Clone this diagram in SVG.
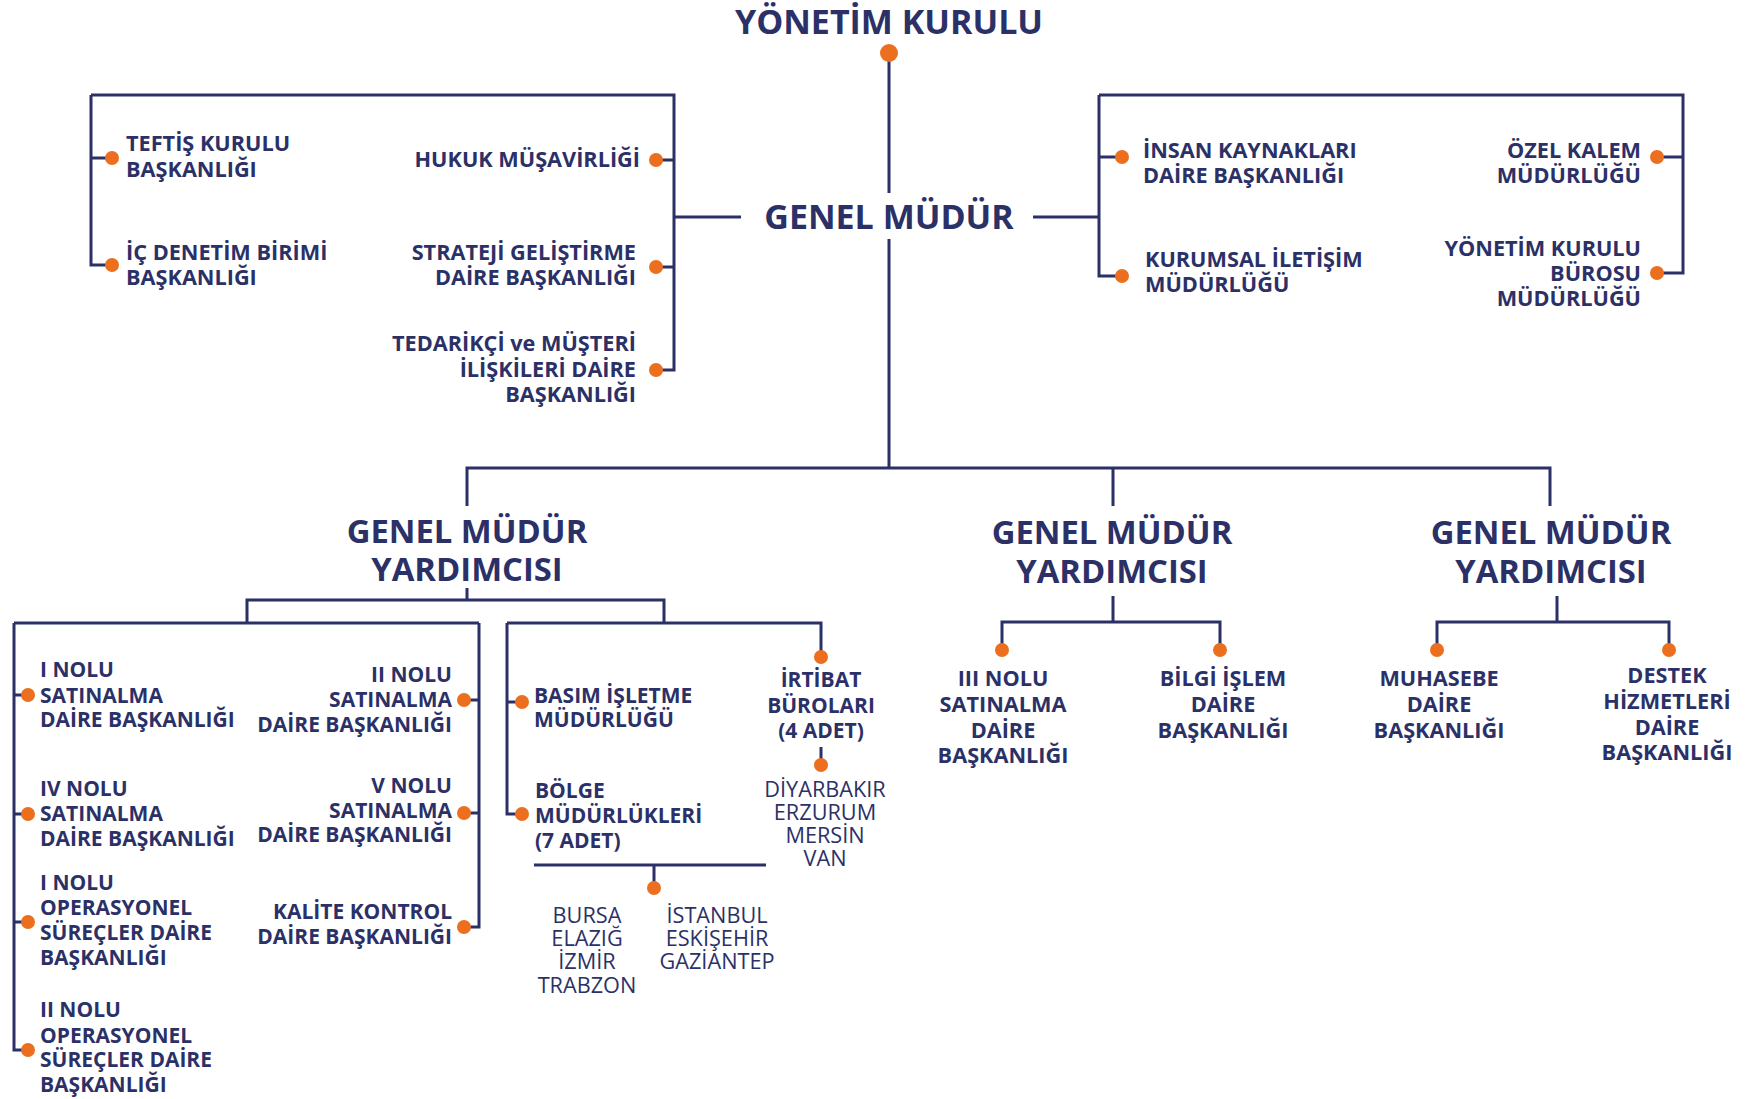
<svg xmlns="http://www.w3.org/2000/svg" width="1747" height="1099" viewBox="0 0 1747 1099">
<style>
.ln{fill:none;stroke:#2b3167;stroke-width:3}
.dot{fill:#eb6f1e}
.t{font-family:"Open Sans","Noto Sans","Liberation Sans",sans-serif;font-weight:700;fill:#2b3167;font-size:21px}
.u{font-size:21.7px}
.r{font-family:"Open Sans","Noto Sans","Liberation Sans",sans-serif;font-weight:400;fill:#2b3167;font-size:21.7px}
.h{font-family:"Open Sans","Noto Sans","Liberation Sans",sans-serif;font-weight:700;fill:#2b3167;font-size:32.8px}
.k{font-size:34px}
.e{text-anchor:end}
.m{text-anchor:middle}
</style>
<rect width="1747" height="1099" fill="#ffffff"/>
<g id="connectors">
<path class="ln" d="M889 53V193M889 239V468"/>
<path class="ln" d="M741 217H674M91 95H674V370H656M91 95V265H112M91 158H112M674 160H656M674 267H656"/>
<path class="ln" d="M1033 217H1099M1099 95H1683V273H1657M1099 95V276H1122M1099 157H1122M1683 157H1657"/>
<path class="ln" d="M467 506V468H1550V506M1113 468V506"/>
<path class="ln" d="M467 588V600M247 623V600H664V623M14 623H479M14 623V1050H28M14 695H28M14 814H28M14 922H28M479 623V927H464M479 700H464M479 813H464"/>
<path class="ln" d="M507 623H821V657M507 623V814H522M507 702H522M821 747V765M534 865H766M654 865V888"/>
<path class="ln" d="M1113 596V622M1002 650V622H1220V650"/>
<path class="ln" d="M1557 596V622M1437 650V622H1669V650"/>
</g>
<g id="yonetim-kurulu">
<text class="h k m" x="889" y="34">YÖNETİM KURULU</text>
<circle class="dot" cx="889" cy="53" r="9"/>
</g>
<g id="genel-mudur">
<text class="h k m" x="889" y="229">GENEL MÜDÜR</text>
</g>
<g id="teftis">
<circle class="dot" cx="112" cy="158" r="7"/>
<text class="t u" x="126" y="151">TEFTİŞ KURULU</text>
<text class="t u" x="126" y="177">BAŞKANLIĞI</text>
</g>
<g id="ic-denetim">
<circle class="dot" cx="112" cy="265" r="7"/>
<text class="t u" x="126" y="260">İÇ DENETİM BİRİMİ</text>
<text class="t u" x="126" y="285">BAŞKANLIĞI</text>
</g>
<g id="hukuk">
<circle class="dot" cx="656" cy="160" r="7"/>
<text class="t u e" x="640" y="167">HUKUK MÜŞAVİRLİĞİ</text>
</g>
<g id="strateji">
<circle class="dot" cx="656" cy="267" r="7"/>
<text class="t u e" x="636" y="260">STRATEJİ GELİŞTİRME</text>
<text class="t u e" x="636" y="285">DAİRE BAŞKANLIĞI</text>
</g>
<g id="tedarikci">
<circle class="dot" cx="656" cy="370" r="7"/>
<text class="t u e" x="636" y="351">TEDARİKÇİ ve MÜŞTERİ</text>
<text class="t u e" x="636" y="377">İLİŞKİLERİ DAİRE</text>
<text class="t u e" x="636" y="402">BAŞKANLIĞI</text>
</g>
<g id="insan-kaynaklari">
<circle class="dot" cx="1122" cy="157" r="7"/>
<text class="t u" x="1143" y="158">İNSAN KAYNAKLARI</text>
<text class="t u" x="1143" y="183">DAİRE BAŞKANLIĞI</text>
</g>
<g id="kurumsal-iletisim">
<circle class="dot" cx="1122" cy="276" r="7"/>
<text class="t u" x="1145" y="267">KURUMSAL İLETİŞİM</text>
<text class="t u" x="1145" y="292">MÜDÜRLÜĞÜ</text>
</g>
<g id="ozel-kalem">
<circle class="dot" cx="1657" cy="157" r="7"/>
<text class="t u e" x="1641" y="158">ÖZEL KALEM</text>
<text class="t u e" x="1641" y="183">MÜDÜRLÜĞÜ</text>
</g>
<g id="yk-burosu">
<circle class="dot" cx="1657" cy="273" r="7"/>
<text class="t u e" x="1641" y="256">YÖNETİM KURULU</text>
<text class="t u e" x="1641" y="281">BÜROSU</text>
<text class="t u e" x="1641" y="306">MÜDÜRLÜĞÜ</text>
</g>
<g id="gmy-1">
<text class="h m" x="467" y="543">GENEL MÜDÜR</text>
<text class="h m" x="467" y="581">YARDIMCISI</text>
</g>
<g id="gmy-2">
<text class="h m" x="1112" y="544">GENEL MÜDÜR</text>
<text class="h m" x="1112" y="583">YARDIMCISI</text>
</g>
<g id="gmy-3">
<text class="h m" x="1551" y="544">GENEL MÜDÜR</text>
<text class="h m" x="1551" y="583">YARDIMCISI</text>
</g>
<g id="i-nolu-satinalma">
<circle class="dot" cx="28" cy="695" r="7"/>
<text class="t" x="40" y="677">I NOLU</text>
<text class="t" x="40" y="703">SATINALMA</text>
<text class="t" x="40" y="727">DAİRE BAŞKANLIĞI</text>
</g>
<g id="iv-nolu-satinalma">
<circle class="dot" cx="28" cy="814" r="7"/>
<text class="t" x="40" y="796">IV NOLU</text>
<text class="t" x="40" y="821">SATINALMA</text>
<text class="t" x="40" y="846">DAİRE BAŞKANLIĞI</text>
</g>
<g id="i-nolu-operasyonel">
<circle class="dot" cx="28" cy="922" r="7"/>
<text class="t" x="40" y="890">I NOLU</text>
<text class="t" x="40" y="915">OPERASYONEL</text>
<text class="t" x="40" y="940">SÜREÇLER DAİRE</text>
<text class="t" x="40" y="965">BAŞKANLIĞI</text>
</g>
<g id="ii-nolu-operasyonel">
<circle class="dot" cx="28" cy="1050" r="7"/>
<text class="t" x="40" y="1017">II NOLU</text>
<text class="t" x="40" y="1043">OPERASYONEL</text>
<text class="t" x="40" y="1067">SÜREÇLER DAİRE</text>
<text class="t" x="40" y="1092">BAŞKANLIĞI</text>
</g>
<g id="ii-nolu-satinalma">
<circle class="dot" cx="464" cy="700" r="7"/>
<text class="t e" x="452" y="682">II NOLU</text>
<text class="t e" x="452" y="707">SATINALMA</text>
<text class="t e" x="452" y="732">DAİRE BAŞKANLIĞI</text>
</g>
<g id="v-nolu-satinalma">
<circle class="dot" cx="464" cy="813" r="7"/>
<text class="t e" x="452" y="793">V NOLU</text>
<text class="t e" x="452" y="818">SATINALMA</text>
<text class="t e" x="452" y="842">DAİRE BAŞKANLIĞI</text>
</g>
<g id="kalite-kontrol">
<circle class="dot" cx="464" cy="927" r="7"/>
<text class="t e" x="452" y="919">KALİTE KONTROL</text>
<text class="t e" x="452" y="944">DAİRE BAŞKANLIĞI</text>
</g>
<g id="basim-isletme">
<circle class="dot" cx="522" cy="702" r="7"/>
<text class="t" x="534" y="703">BASIM İŞLETME</text>
<text class="t" x="534" y="727">MÜDÜRLÜĞÜ</text>
</g>
<g id="bolge-mudurlukleri">
<circle class="dot" cx="522" cy="814" r="7"/>
<text class="t" x="535" y="798">BÖLGE</text>
<text class="t" x="535" y="823">MÜDÜRLÜKLERİ</text>
<text class="t" x="535" y="848">(7 ADET)</text>
</g>
<g id="bolge-iller">
<circle class="dot" cx="654" cy="888" r="7"/>
<text class="r m" x="587" y="923">BURSA</text>
<text class="r m" x="587" y="946">ELAZIĞ</text>
<text class="r m" x="587" y="969">İZMİR</text>
<text class="r m" x="587" y="993">TRABZON</text>
<text class="r m" x="717" y="923">İSTANBUL</text>
<text class="r m" x="717" y="946">ESKİŞEHİR</text>
<text class="r m" x="717" y="969">GAZİANTEP</text>
</g>
<g id="irtibat-burolari">
<circle class="dot" cx="821" cy="657" r="7"/>
<text class="t m" x="821" y="687">İRTİBAT</text>
<text class="t m" x="821" y="713">BÜROLARI</text>
<text class="t m" x="821" y="738">(4 ADET)</text>
</g>
<g id="irtibat-iller">
<circle class="dot" cx="821" cy="765" r="7"/>
<text class="r m" x="825" y="797">DİYARBAKIR</text>
<text class="r m" x="825" y="820">ERZURUM</text>
<text class="r m" x="825" y="843">MERSİN</text>
<text class="r m" x="825" y="866">VAN</text>
</g>
<g id="iii-nolu-satinalma">
<circle class="dot" cx="1002" cy="650" r="7"/>
<text class="t u m" x="1003" y="686">III NOLU</text>
<text class="t u m" x="1003" y="712">SATINALMA</text>
<text class="t u m" x="1003" y="738">DAİRE</text>
<text class="t u m" x="1003" y="763">BAŞKANLIĞI</text>
</g>
<g id="bilgi-islem">
<circle class="dot" cx="1220" cy="650" r="7"/>
<text class="t u m" x="1223" y="686">BİLGİ İŞLEM</text>
<text class="t u m" x="1223" y="712">DAİRE</text>
<text class="t u m" x="1223" y="738">BAŞKANLIĞI</text>
</g>
<g id="muhasebe">
<circle class="dot" cx="1437" cy="650" r="7"/>
<text class="t u m" x="1439" y="686">MUHASEBE</text>
<text class="t u m" x="1439" y="712">DAİRE</text>
<text class="t u m" x="1439" y="738">BAŞKANLIĞI</text>
</g>
<g id="destek-hizmetleri">
<circle class="dot" cx="1669" cy="650" r="7"/>
<text class="t u m" x="1667" y="683">DESTEK</text>
<text class="t u m" x="1667" y="709">HİZMETLERİ</text>
<text class="t u m" x="1667" y="735">DAİRE</text>
<text class="t u m" x="1667" y="760">BAŞKANLIĞI</text>
</g>
</svg>
